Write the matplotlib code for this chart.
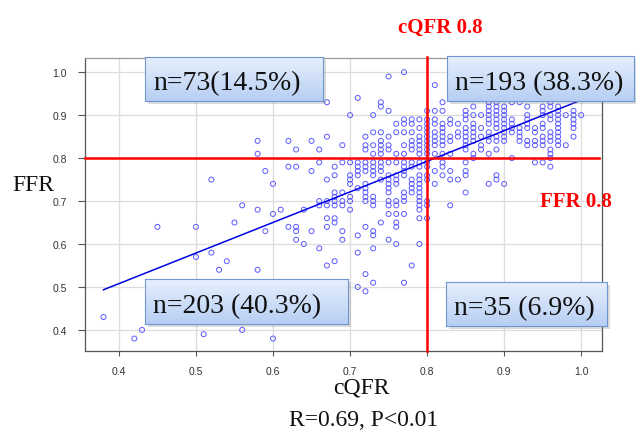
import numpy as np
import matplotlib.pyplot as plt
from matplotlib.patches import Rectangle
from matplotlib.colors import LinearSegmentedColormap

# cQFR value -> FFR values, one table per quadrant
upper_left = {
    0.58: [0.84, 0.81], 0.62: [0.84], 0.63: [0.82], 0.65: [0.84], 0.66: [0.82],
    0.67: [0.93, 0.85], 0.69: [0.83], 0.70: [0.90], 0.71: [0.94],
    0.72: [0.85, 0.83, 0.82], 0.73: [0.90, 0.86, 0.83, 0.81],
    0.74: [0.93, 0.92, 0.86, 0.84, 0.83, 0.82, 0.81],
    0.75: [0.99, 0.91, 0.85, 0.83, 0.82], 0.76: [0.88, 0.86, 0.81],
    0.77: [1.00, 0.89, 0.88, 0.86, 0.83, 0.81],
    0.78: [0.89, 0.88, 0.86, 0.84, 0.83, 0.82],
    0.79: [0.89, 0.87, 0.85, 0.84, 0.83, 0.82, 0.81],
    0.80: [0.91, 0.89, 0.88, 0.87, 0.86, 0.85, 0.84, 0.83, 0.82, 0.81],
}
upper_right = {
    0.81: [0.97, 0.91, 0.89, 0.88, 0.86, 0.85, 0.84, 0.83, 0.81],
    0.82: [0.93, 0.91, 0.88, 0.87, 0.86, 0.85, 0.84, 0.83, 0.81],
    0.83: [0.89, 0.88, 0.85, 0.84, 0.81],
    0.84: [0.88, 0.86, 0.85],
    0.85: [0.95, 0.91, 0.90, 0.89, 0.87, 0.86, 0.85, 0.84, 0.83, 0.82],
    0.86: [0.92, 0.90, 0.88, 0.87, 0.86, 0.85, 0.84, 0.81],
    0.87: [0.90, 0.87, 0.85, 0.83, 0.82],
    0.88: [0.96, 0.94, 0.93, 0.92, 0.91, 0.90, 0.89, 0.88, 0.86, 0.85, 0.84, 0.81],
    0.89: [0.93, 0.92, 0.91, 0.90, 0.89, 0.88, 0.87, 0.85, 0.84, 0.82],
    0.90: [0.95, 0.92, 0.91, 0.90, 0.89, 0.88, 0.87, 0.86, 0.85, 0.84],
    0.91: [0.93, 0.89, 0.88, 0.87, 0.86],
    0.92: [0.97, 0.93, 0.87, 0.86, 0.85, 0.84],
    0.93: [0.92, 0.90, 0.89, 0.88, 0.87, 0.84, 0.83],
    0.94: [0.95, 0.87, 0.86, 0.84, 0.83],
    0.95: [0.92, 0.91, 0.90, 0.88, 0.87, 0.85, 0.84, 0.83],
    0.96: [0.93, 0.92, 0.90, 0.89, 0.86, 0.85, 0.84, 0.82, 0.81],
    0.97: [0.92, 0.91, 0.90, 0.89, 0.88, 0.87, 0.86, 0.85, 0.84, 0.83],
    0.98: [0.90, 0.83],
    0.99: [0.91, 0.90, 0.89, 0.88, 0.87, 0.85],
    1.00: [0.90],
}
lower_left = {
    0.38: [0.43], 0.42: [0.38], 0.43: [0.40], 0.45: [0.64], 0.50: [0.64, 0.57],
    0.51: [0.39], 0.52: [0.75, 0.58], 0.53: [0.54], 0.54: [0.56], 0.55: [0.65],
    0.56: [0.69, 0.40], 0.57: [0.42], 0.58: [0.68, 0.54], 0.59: [0.77, 0.63],
    0.60: [0.74, 0.67, 0.38], 0.61: [0.68], 0.62: [0.78, 0.64],
    0.63: [0.78, 0.64, 0.63, 0.61], 0.64: [0.68, 0.60], 0.65: [0.77, 0.63],
    0.66: [0.79, 0.70, 0.69, 0.59],
    0.67: [0.75, 0.70, 0.69, 0.66, 0.64, 0.55],
    0.68: [0.78, 0.76, 0.72, 0.71, 0.70, 0.69, 0.66, 0.65, 0.56],
    0.69: [0.79, 0.72, 0.70, 0.69, 0.63, 0.61],
    0.70: [0.79, 0.76, 0.75, 0.74, 0.71, 0.70, 0.68],
    0.71: [0.79, 0.78, 0.77, 0.76, 0.73, 0.62, 0.58, 0.50],
    0.72: [0.79, 0.78, 0.77, 0.74, 0.73, 0.72, 0.71, 0.70, 0.64, 0.53, 0.49],
    0.73: [0.79, 0.78, 0.77, 0.76, 0.71, 0.70, 0.69, 0.63, 0.62, 0.59, 0.51],
    0.74: [0.79, 0.78, 0.77, 0.75, 0.65],
    0.75: [0.79, 0.76, 0.75, 0.74, 0.73, 0.72, 0.70, 0.69, 0.67, 0.61],
    0.76: [0.79, 0.76, 0.75, 0.74, 0.70, 0.69, 0.67, 0.65, 0.64, 0.60],
    0.77: [0.79, 0.78, 0.77, 0.76, 0.72, 0.71, 0.70, 0.67, 0.51],
    0.78: [0.79, 0.78, 0.75, 0.74, 0.73, 0.72, 0.55],
    0.79: [0.79, 0.78, 0.76, 0.75, 0.74, 0.73, 0.72, 0.71, 0.70, 0.69, 0.68, 0.66, 0.60],
    0.80: [0.79, 0.78, 0.76, 0.75, 0.70, 0.69, 0.66],
}
lower_right = {
    0.81: [0.77, 0.74], 0.82: [0.79, 0.78, 0.76], 0.83: [0.77, 0.75, 0.69],
    0.84: [0.75], 0.85: [0.79, 0.77, 0.76, 0.72], 0.86: [0.80], 0.88: [0.74],
    0.89: [0.76, 0.75], 0.90: [0.74], 0.91: [0.80], 0.94: [0.79], 0.95: [0.79],
    0.96: [0.80, 0.78],
}

# regression line as drawn
fit_slope = 0.712
fit_icpt = 0.223
fit_range = [0.38, 0.995]
cutoff = 0.8

quad_labels = ['n=73(14.5%)', 'n=193 (38.3%)', 'n=203 (40.3%)', 'n=35 (6.9%)']

cqfr, ffr = [], []
for tbl in (upper_left, upper_right, lower_left, lower_right):
    for x, ys in tbl.items():
        for y in ys:
            cqfr.append(x)
            ffr.append(y)

W, H = 636, 431
serif = 'Liberation Serif'
fig = plt.figure(figsize=(W / 100, H / 100), dpi=100)
ax = fig.add_axes([85 / W, 1 - 352 / H, (602 - 85) / W, (352 - 59) / H])

ticks = np.arange(0.4, 1.01, 0.1)
ax.set_xlim(0.356, 1.027)
ax.set_ylim(0.351, 1.033)
ax.set_xticks(ticks)
ax.set_yticks(ticks)
ax.set_xticklabels(['%.1f' % v for v in ticks], family='Liberation Sans')
ax.set_yticklabels(['%.1f' % v for v in ticks], family='Liberation Sans')
ax.grid(True, color='#dcdcdc', lw=0.9)
ax.set_axisbelow(True)
ax.tick_params(axis='x', length=3.5, width=0.8, color='#555555', pad=7,
               labelsize=7.5, labelcolor='#333333')
ax.tick_params(axis='y', length=5, width=0.8, color='#555555', pad=8,
               labelsize=7.5, labelcolor='#333333')
for s in ax.spines.values():
    s.set_color('#555555')
    s.set_linewidth(0.9)
ax.spines['top'].set_color('#999999')

ax.scatter(cqfr, ffr, s=13, facecolors='none', edgecolors='#5a5aff',
           linewidths=0.7, zorder=3)

fx = np.array(fit_range)
ax.plot(fx, fit_icpt + fit_slope * fx, color='#0000e6', lw=1.1, zorder=4)

ax.plot([cutoff, cutoff], [0.351, 1.036], color='red', lw=1.8,
        clip_on=False, zorder=5)
ax.plot([0.356, 1.023], [cutoff, cutoff], color='red', lw=1.8,
        clip_on=False, zorder=5)

# gradient label boxes
cmap = LinearSegmentedColormap.from_list('box', ['#b7cff4', '#e6effc'])
boxes = [(145, 58, 323, 102), (447, 57, 634, 102),
         (145, 280, 348, 325), (446, 283, 607, 327)]
grad = np.linspace(0, 1, 64).reshape(-1, 1)
for (x0, y0, x1, y1), lab in zip(boxes, quad_labels):
    l, b = x0 / W, 1 - y1 / H
    w, h = (x1 - x0) / W, (y1 - y0) / H
    fig.patches.append(Rectangle((l + 3 / W, b - 3 / H), w, h,
                                 transform=fig.transFigure, color='#888888',
                                 alpha=0.3, lw=0, zorder=5))
    bx = fig.add_axes([l, b, w, h], zorder=6)
    bx.imshow(grad, cmap=cmap, aspect='auto', origin='lower',
              extent=[0, 1, 0, 1])
    bx.set_xticks([])
    bx.set_yticks([])
    for s in bx.spines.values():
        s.set_color('#7096d4')
        s.set_linewidth(0.8)
    bx.text(8 / (x1 - x0), 12 / (y1 - y0), lab, transform=bx.transAxes,
            ha='left', va='baseline', fontsize=20, family=serif,
            color='#111111')

fig.text(440 / W, 1 - 33 / H, 'cQFR 0.8', ha='center', va='baseline',
         fontsize=15, fontweight='bold', family=serif, color='red')
fig.text(540 / W, 1 - 207 / H, 'FFR 0.8', ha='left', va='baseline',
         fontsize=15, fontweight='bold', family=serif, color='red')
fig.text(12 / W, 1 - 191 / H, 'FFR', ha='left', va='baseline',
         fontsize=17, family=serif, color='#111111')
fig.text(361 / W, 1 - 394 / H, 'cQFR', ha='center', va='baseline',
         fontsize=17, family=serif, color='#111111')
fig.text(364 / W, 1 - 426 / H, 'R=0.69, P<0.01', ha='center', va='baseline',
         fontsize=17, family=serif, color='#111111')

fig.savefig('out.png', dpi=100)
